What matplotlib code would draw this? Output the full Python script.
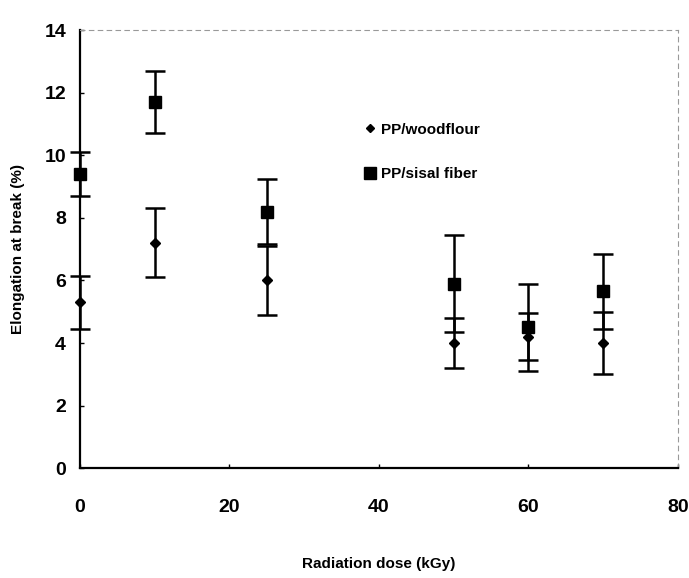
import numpy as np
import matplotlib
matplotlib.use("Agg")
import matplotlib.pyplot as plt
from matplotlib.lines import Line2D

plt.rcParams['font.family'] = ['Liberation Sans', 'DejaVu Sans']

# data
dose = [0, 10, 25, 50, 60, 70]
wood = [5.3, 7.2, 6.0, 4.0, 4.2, 4.0]
wood_err = [0.85, 1.1, 1.1, 0.8, 0.75, 1.0]
sisal = [9.4, 11.7, 8.2, 5.9, 4.5, 5.65]
sisal_err = [0.7, 1.0, 1.05, 1.55, 1.4, 1.2]

fig = plt.figure(figsize=(6.89, 5.78), dpi=100)
ax = fig.add_axes([0.116, 0.19, 0.868, 0.758])

for vals, errs, mk, sz in [(wood, wood_err, 'D', 5), (sisal, sisal_err, 's', 9)]:
    c = ax.errorbar(dose, vals, yerr=errs, fmt=mk, color='black', ms=sz,
                    ecolor='black', elinewidth=1.8, capsize=7, capthick=1.8)
    for art in [c[0]] + list(c[1]) + list(c[2]):
        art.set_clip_on(False)

ax.set_xlim(0, 80)
ax.set_ylim(0, 14)
ax.set_xticks([0, 20, 40, 60, 80])
ax.set_yticks([0, 2, 4, 6, 8, 10, 12, 14])
ax.tick_params(axis='both', direction='in', length=3, width=1,
               labelsize=14)
ax.tick_params(axis='x', pad=22)
ax.tick_params(axis='y', pad=10)
for lab in ax.get_xticklabels() + ax.get_yticklabels():
    lab.set_fontweight('bold')

for s in ['left', 'bottom']:
    ax.spines[s].set_linewidth(1.6)
for s in ['top', 'right']:
    ax.spines[s].set_color('#999999')
    ax.spines[s].set_linestyle((0, (4, 4)))
    ax.spines[s].set_linewidth(0.8)

ax.set_xlabel('Radiation dose (kGy)', fontsize=11, fontweight='bold',
              labelpad=30)
ax.set_ylabel('Elongation at break (%)', fontsize=11, fontweight='bold',
              labelpad=14)

handles = [Line2D([], [], marker='D', color='black', ls='none', ms=4),
           Line2D([], [], marker='s', color='black', ls='none', ms=8)]
leg = ax.legend(handles, ['PP/woodflour', 'PP/sisal fiber'],
                loc='upper left', bbox_to_anchor=(0.45, 0.82), frameon=False,
                fontsize=11, handletextpad=0.2, labelspacing=2.0,
                handlelength=1.0)
for t in leg.get_texts():
    t.set_fontweight('bold')

fig.savefig('out.png', dpi=100)
